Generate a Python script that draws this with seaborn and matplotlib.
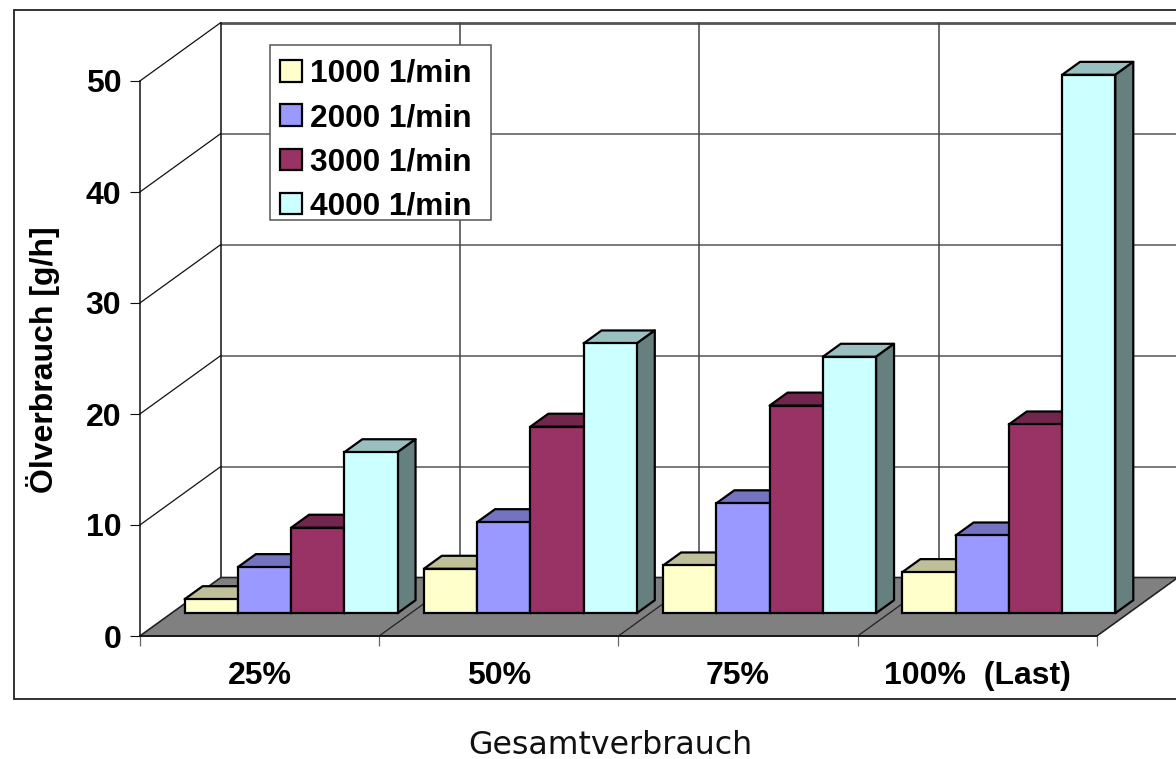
import matplotlib
matplotlib.use("Agg")
import matplotlib.pyplot as plt
from matplotlib.patches import Polygon, Rectangle
from matplotlib.colors import to_rgb
import pandas as pd
import seaborn as sns

categories = ["25%", "50%", "75%", "100%  (Last)"]
series_names = ["1000 1/min", "2000 1/min", "3000 1/min", "4000 1/min"]
rpm_1000 = [1.26, 4.0, 4.3, 3.7]
rpm_2000 = [4.15, 8.2, 9.9, 7.0]
rpm_3000 = [7.7, 16.8, 18.7, 17.0]
rpm_4000 = [14.5, 24.3, 23.1, 48.5]
colors = ["#FFFFCC", "#9999FF", "#993366", "#CCFFFF"]
y_ticks = [0, 10, 20, 30, 40, 50]

W, H = 1176, 759
sns.set_theme(style="white")
plt.rcParams["font.family"] = ["Liberation Sans", "DejaVu Sans"]

fig = plt.figure(figsize=(W / 100, H / 100), dpi=100)
ax = fig.add_axes([0, 0, 1, 1])
ax.patch.set_alpha(0)

rows = []
for name, vals in zip(series_names, [rpm_1000, rpm_2000, rpm_3000, rpm_4000]):
    for cat, v in zip(categories, vals):
        rows.append({"load": cat, "oil": v, "rpm": name})
df = pd.DataFrame(rows)

sns.barplot(data=df, x="load", y="oil", hue="rpm", order=categories,
            hue_order=series_names, palette=colors, saturation=1,
            width=0.89, gap=0, edgecolor="black", linewidth=1.6, ax=ax)

# Scale: category width 239.25 px, 11.1 px per y unit
x_px, y_px = 239.25, 11.1
ax.set_xlim(-259.5 / x_px, (W - 259.5) / x_px)
ax.set_ylim(-(H - 636) / y_px, 636 / y_px)

DX, DY = 81 / x_px, 58.5 / y_px      # full depth of the floor
front = 0.39                         # bar front position inside the depth
depth = 0.222                        # bar depth
x0, x1 = -0.5, len(categories) - 0.5
ymax = y_ticks[-1]

# outer frame
ax.add_patch(Rectangle((14 / W, 1 - 699 / H), 1.1, 689 / H, transform=ax.transAxes,
                       fc="white", ec="#222222", lw=1.3, zorder=0))

# floor
ax.add_patch(Polygon([(x0, 0), (x1, 0), (x1 + DX, DY), (x0 + DX, DY)],
                     fc="#808080", ec="#222222", lw=1.2, zorder=1.2))
for k in range(1, len(categories)):
    ax.plot([x0 + k, x0 + k + DX], [0, DY], color="#222222", lw=0.9, zorder=1.3)

# back wall and left wall
for t in y_ticks[1:]:
    ax.plot([x0 + DX, x1 + DX], [t + DY, t + DY], color="#555555",
            lw=2.0 if t == ymax else 1.1, zorder=1.1)
    ax.plot([x0, x0 + DX], [t, t + DY], color="#111111", lw=0.9, zorder=1.1)
for k in range(len(categories) + 1):
    ax.plot([x0 + k + DX] * 2, [DY, ymax + DY], color="#444444" if k else "#111111",
            lw=1.1, zorder=1.1)

# bars: shift into the depth, add top and side faces
bars = []
for cont in ax.containers:
    bars.extend(cont.patches)
bars.sort(key=lambda b: b.get_x())
z = 2.0
for b in bars:
    face = to_rgb(b.get_facecolor()[:3])
    bx = b.get_x() + front * DX
    by = front * DY
    w, h = b.get_width(), b.get_height()
    ddx, ddy = depth * DX, depth * DY
    ax.add_patch(Polygon([(bx, by + h), (bx + w, by + h), (bx + w + ddx, by + h + ddy),
                          (bx + ddx, by + h + ddy)],
                         fc=[c * 0.75 for c in face], ec="black", lw=1.6,
                         joinstyle="round", zorder=z))
    ax.add_patch(Polygon([(bx + w, by), (bx + w + ddx, by + ddy), (bx + w + ddx, by + h + ddy),
                          (bx + w, by + h)],
                         fc=[c * 0.5 for c in face], ec="black", lw=1.6,
                         joinstyle="round", zorder=z + 0.01))
    b.set_x(bx)
    b.set_y(by)
    b.set_zorder(z + 0.02)
    z += 0.1

# axes
for s in ["top", "right"]:
    ax.spines[s].set_visible(False)
ax.spines["left"].set_position(("data", x0))
ax.spines["left"].set_bounds(0, ymax)
ax.spines["bottom"].set_position(("data", 0))
ax.spines["bottom"].set_bounds(x0, x1)
for s in ["left", "bottom"]:
    ax.spines[s].set_color("#111111")
    ax.spines[s].set_linewidth(1.1)
    ax.spines[s].set_zorder(1.4)

ax.set_yticks(y_ticks)
ax.set_xticks(range(len(categories)))
ax.set_xticklabels(categories)
ax.set_xticks([x0 + k for k in range(len(categories) + 1)], minor=True)
ax.tick_params(axis="y", which="major", length=7.2, width=0.8, color="#111111", pad=6.2,
               left=True, labelsize=23, labelcolor="black")
ax.tick_params(axis="x", which="major", length=0, pad=18, labelsize=23, labelcolor="black",
               bottom=True)
ax.tick_params(axis="x", which="minor", length=7, width=0.9, color="#666666", bottom=True)
for lab in ax.get_xticklabels() + ax.get_yticklabels():
    lab.set_fontweight("bold")

ax.set_ylabel("Ölverbrauch [g/h]", fontsize=23, fontweight="bold", color="black")
ax.yaxis.set_label_coords(60 / W, 1 - 360 / H)
ax.set_xlabel("Gesamtverbrauch", fontsize=22.8, color="#111111", family="DejaVu Sans")
ax.xaxis.set_label_coords(610.5 / W, 1 - 730 / H)

# legend: box and entries
ax.add_patch(Rectangle((270 / W, 1 - 220 / H), 221 / W, 175 / H, transform=ax.transAxes,
                       fc="white", ec="#555555", lw=1.1, zorder=9.5))
handles, labels = ax.get_legend_handles_labels()
leg = ax.legend(handles, labels, loc="upper left",
                bbox_to_anchor=(280 / W, 1 - 59 / H), bbox_transform=ax.transAxes,
                frameon=False, borderaxespad=0, borderpad=0,
                labelspacing=0.45, handlelength=0.7, handleheight=0.66,
                handletextpad=0.26, labelcolor="black",
                prop={"size": 22.8, "weight": "bold", "family": "Liberation Sans"})
leg.set_zorder(10)

fig.savefig("out.png", dpi=100)
